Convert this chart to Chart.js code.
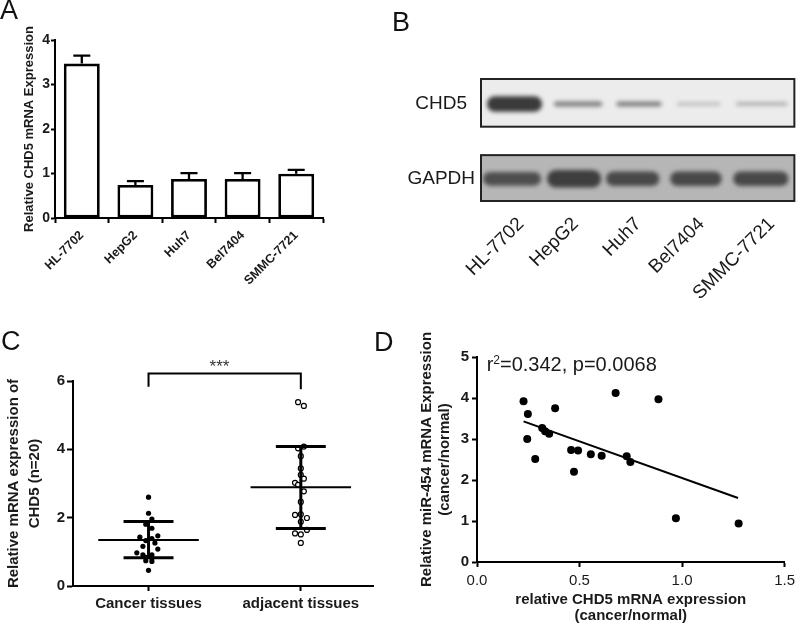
<!DOCTYPE html>
<html>
<head>
<meta charset="utf-8">
<script src="https://cdn.jsdelivr.net/npm/chart.js@4/dist/chart.umd.min.js"></script>
<style>
    html, body { margin: 0; padding: 0; background: #fff; }
    #page { position: relative; width: 800px; height: 624px; overflow: hidden; }
    canvas { position: absolute; filter: blur(0.35px); }
    .tag { position: absolute; font: 27px "Liberation Sans", Arial, sans-serif; color: #111; line-height: 27px; }
</style>
</head>
<body>
<div id="page">
    <canvas id="chartA" width="400" height="300" style="left:0;top:0"></canvas>
    <canvas id="chartB" width="400" height="260" style="left:400px;top:50px"></canvas>
    <canvas id="chartC" width="400" height="304" style="left:0;top:320px"></canvas>
    <canvas id="chartD" width="400" height="304" style="left:400px;top:320px"></canvas>
    <div class="tag" style="left:0;top:-3px">A</div>
    <div class="tag" style="left:392px;top:9px">B</div>
    <div class="tag" style="left:1px;top:328px">C</div>
    <div class="tag" style="left:374px;top:329px">D</div>
</div>
<script>
// Panel A: bars with error caps
const cellLines = ['HL-7702', 'HepG2', 'Huh7', 'Bel7404', 'SMMC-7721'];
const barValues = [3.47, 0.74, 0.875, 0.875, 0.995];
const barErrorTops = [3.65, 0.83, 1.01, 1.01, 1.08];

// Panel B: blot bands, x in lane units and y in row units
const blotRows = ['CHD5', 'GAPDH'];
const rowCenters = [2.115, 0.485];
const rowSpans = [[1.62, 2.66], [0, 1]];
const rowShades = ['#ececec', '#b6b6b6'];
const laneLabelAt = [0.64, 1.51, 2.51, 3.52, 4.64];
const chd5Centers = [0.535, 1.55, 2.52, 3.475, 4.48];
const chd5Widths = [0.88, 0.77, 0.72, 0.69, 0.82];
const chd5Thick = [0.34, 0.11, 0.1, 0.05, 0.06];
const chd5Gray = [58, 125, 118, 170, 155];
const gapdhCenters = [0.495, 1.486, 2.42, 3.43, 4.465];
const gapdhWidths = [0.93, 0.865, 0.85, 0.82, 0.88];
const gapdhThick = [0.3, 0.38, 0.32, 0.32, 0.32];
const gapdhGray = [78, 62, 72, 72, 72];

// Panel C: two groups of 20 samples
const groupNames = ['Cancer tissues', 'adjacent tissues'];
const cancerX = [1, 1, 1.022, 0.982, 1.022, 0.943, 1.061, 0.982, 1.022, 1.042, 0.963, 1.061, 0.923, 0.963, 1.022, 0.982, 1.022, 0.982, 1.022, 1];
const cancerY = [2.6, 2.13, 1.96, 1.81, 1.69, 1.43, 1.47, 1.33, 1.39, 1.26, 1.16, 1.08, 0.97, 0.91, 0.91, 0.84, 0.81, 0.74, 0.72, 0.46];
const adjacentX = [1.982, 2.02, 1.982, 2.02, 2, 2, 2, 2.02, 1.962, 1.982, 2.02, 2, 1.962, 2, 2.04, 2, 2.04, 1.962, 2, 2];
const adjacentY = [5.38, 5.27, 4.03, 4.08, 3.8, 3.44, 3.25, 3.14, 3.02, 2.96, 2.77, 2.46, 2.08, 2.1, 1.99, 1.88, 1.64, 1.54, 1.51, 1.26];
const groupMeans = [1.35, 2.89];
const groupUpper = [1.89, 4.08];
const groupLower = [0.83, 1.68];
const bracketX = [1, 1, 2, 2];
const bracketY = [5.83, 6.22, 6.22, 5.76];

// Panel D: correlation
const chd5Ratio = [0.227, 0.248, 0.245, 0.284, 0.318, 0.332, 0.352, 0.381, 0.459, 0.493, 0.473, 0.555, 0.608, 0.676, 0.73, 0.748, 0.885, 0.97, 1.276];
const mirRatio = [3.92, 3.61, 3.0, 2.51, 3.27, 3.19, 3.13, 3.75, 2.73, 2.72, 2.2, 2.63, 2.59, 4.12, 2.58, 2.44, 3.97, 1.07, 0.94];
const fitX = [0.227, 1.273];
const fitY = [3.43, 1.56];

Chart.defaults.font.family = '"Liberation Sans", Arial, sans-serif';
Chart.defaults.color = '#1a1a1a';
Chart.defaults.animation = false;
Chart.defaults.responsive = false;
Chart.defaults.plugins.legend.display = false;
Chart.defaults.plugins.tooltip.enabled = false;

function toPoints(xs, ys) {
    return xs.map((x, i) => ({ x: x, y: ys[i] }));
}

// line dataset used for means, whiskers, bracket and fit
function lineSet(points, width) {
    return { data: points, showLine: true, borderColor: '#000', borderWidth: width, pointRadius: 0, clip: false };
}

// axis line and outside ticks only
function axisStyle(width, tickLength) {
    return {
        border: { display: true, width: width, color: '#000' },
        grid: { drawOnChartArea: false, drawTicks: true, tickLength: tickLength, tickWidth: width, tickColor: '#000' }
    };
}

const errorBars = {
    id: 'errorBars',
    beforeDatasetsDraw(chart) {
        const ctx = chart.ctx;
        const y = chart.scales.y;
        const bars = chart.getDatasetMeta(0).data;
        ctx.save();
        ctx.strokeStyle = '#000';
        ctx.lineWidth = 2.3;
        bars.forEach((bar, i) => {
            const top = y.getPixelForValue(barErrorTops[i]);
            ctx.beginPath();
            ctx.moveTo(bar.x, y.getPixelForValue(barValues[i]));
            ctx.lineTo(bar.x, top);
            ctx.moveTo(bar.x - 8.5, top);
            ctx.lineTo(bar.x + 8.5, top);
            ctx.stroke();
        });
        ctx.restore();
    }
};

new Chart(document.getElementById('chartA'), {
    type: 'bar',
    data: {
        labels: cellLines,
        datasets: [{
            data: barValues,
            backgroundColor: '#fff',
            borderColor: '#000',
            borderWidth: 2.8,
            borderSkipped: false,
            barPercentage: 0.67,
            categoryPercentage: 1
        }]
    },
    options: {
        layout: { padding: { top: 40, right: 77 } },
        scales: {
            x: Object.assign(axisStyle(2, 5), {
                afterFit: s => { s.height = 82; },
                ticks: { font: { size: 12.5, weight: 'bold' }, minRotation: 45, maxRotation: 45, autoSkip: false, padding: 5 }
            }),
            y: Object.assign(axisStyle(2, 4), {
                min: 0,
                max: 4,
                afterFit: s => { s.width = 55; },
                ticks: { stepSize: 1, font: { size: 14, weight: 'bold' }, padding: 1 },
                title: { display: true, text: 'Relative CHD5 mRNA Expression', font: { size: 13, weight: 'bold' }, padding: { top: 22, bottom: 0 } }
            })
        }
    },
    plugins: [errorBars]
});

const blotPanels = {
    id: 'blotPanels',
    beforeDatasetsDraw(chart) {
        const ctx = chart.ctx;
        const x = chart.scales.x;
        const y = chart.scales.y;
        const rows = [
            [chd5Centers, chd5Widths, chd5Thick, chd5Gray],
            [gapdhCenters, gapdhWidths, gapdhThick, gapdhGray]
        ];
        rows.forEach((row, r) => {
            const top = y.getPixelForValue(rowSpans[r][1]);
            const bottom = y.getPixelForValue(rowSpans[r][0]);
            const left = x.left;
            const w = x.right - x.left;
            ctx.save();
            ctx.beginPath();
            ctx.rect(left, top, w, bottom - top);
            ctx.clip();
            ctx.fillStyle = rowShades[r];
            ctx.fillRect(left, top, w, bottom - top);
            ctx.filter = 'blur(2px)';
            row[0].forEach((c, i) => {
                const bw = row[1][i] * (x.getPixelForValue(1) - x.getPixelForValue(0));
                const bh = row[2][i] * (y.getPixelForValue(0) - y.getPixelForValue(1));
                const g = row[3][i];
                ctx.fillStyle = 'rgb(' + g + ',' + g + ',' + g + ')';
                ctx.beginPath();
                ctx.roundRect(x.getPixelForValue(c) - bw / 2, y.getPixelForValue(rowCenters[r]) - bh / 2, bw, bh, bh / 2);
                ctx.fill();
            });
            ctx.restore();
            ctx.save();
            ctx.strokeStyle = '#222';
            ctx.lineWidth = 2;
            ctx.strokeRect(left, top, w, bottom - top);
            ctx.restore();
        });
    }
};

new Chart(document.getElementById('chartB'), {
    type: 'scatter',
    data: { datasets: [{ data: toPoints(chd5Centers, chd5Thick), pointRadius: 0 }] },
    options: {
        layout: { padding: { top: 29, right: 1 } },
        scales: {
            x: {
                min: 0,
                max: 5,
                border: { display: false },
                grid: { display: false, drawTicks: false },
                afterFit: s => { s.height = 109; },
                afterBuildTicks: s => { s.ticks = laneLabelAt.map(v => ({ value: v })); },
                ticks: { callback: (v, i) => cellLines[i], font: { size: 19 }, minRotation: 45, maxRotation: 45, autoSkip: false, padding: 12 }
            },
            y: {
                min: 0,
                max: 2.66,
                border: { display: false },
                grid: { display: false, drawTicks: false },
                afterFit: s => { s.width = 81; },
                afterBuildTicks: s => { s.ticks = rowCenters.map(v => ({ value: v })); },
                ticks: { callback: (v, i) => blotRows[i], font: { size: 19 }, crossAlign: 'center', autoSkip: false, padding: 6 }
            }
        }
    },
    plugins: [blotPanels]
});

const starsLabel = {
    id: 'starsLabel',
    afterDatasetsDraw(chart) {
        const ctx = chart.ctx;
        ctx.save();
        ctx.font = '17px "Liberation Sans", Arial, sans-serif';
        ctx.fillStyle = '#333';
        ctx.textAlign = 'center';
        ctx.textBaseline = 'middle';
        ctx.fillText('***', chart.scales.x.getPixelForValue(1.466), chart.scales.y.getPixelForValue(6.41));
        ctx.restore();
    }
};

const summaryLines = [];
groupNames.forEach((name, i) => {
    const c = i + 1;
    summaryLines.push(lineSet(toPoints([c - 0.33, c + 0.33], [groupMeans[i], groupMeans[i]]), 2));
    summaryLines.push(lineSet(toPoints([c - 0.164, c + 0.164], [groupUpper[i], groupUpper[i]]), 3));
    summaryLines.push(lineSet(toPoints([c - 0.164, c + 0.164], [groupLower[i], groupLower[i]]), 3));
    summaryLines.push(lineSet(toPoints([c, c], [groupLower[i], groupUpper[i]]), 3));
});

new Chart(document.getElementById('chartC'), {
    type: 'scatter',
    data: {
        datasets: summaryLines.concat([
            lineSet(toPoints(bracketX, bracketY), 2),
            { data: toPoints(cancerX, cancerY), pointRadius: 2.6, pointBackgroundColor: '#000', pointBorderColor: '#000', pointBorderWidth: 0 },
            { data: toPoints(adjacentX, adjacentY), pointRadius: 2.5, pointBackgroundColor: '#fff', pointBorderColor: '#000', pointBorderWidth: 1.2 }
        ])
    },
    options: {
        layout: { padding: { top: 61, right: 27 } },
        scales: {
            x: Object.assign(axisStyle(2, 5), {
                min: 0.504,
                max: 2.474,
                afterFit: s => { s.height = 38; },
                afterBuildTicks: s => { s.ticks = [{ value: 1 }, { value: 2 }]; },
                ticks: { callback: (v, i) => groupNames[i], font: { size: 15, weight: 'bold' }, autoSkip: false, maxRotation: 0, padding: 4 }
            }),
            y: Object.assign(axisStyle(2, 6), {
                min: 0,
                max: 6,
                afterFit: s => { s.width = 73; },
                ticks: { stepSize: 2, font: { size: 15, weight: 'bold' }, padding: 2 },
                title: {
                    display: true,
                    text: ['Relative mRNA expression of', 'CHD5 (n=20)'],
                    font: { size: 15, weight: 'bold', lineHeight: 1.35 },
                    padding: { top: 4, bottom: 0 }
                }
            })
        }
    },
    plugins: [starsLabel]
});

const statsLabel = {
    id: 'statsLabel',
    afterDatasetsDraw(chart) {
        const ctx = chart.ctx;
        let px = chart.scales.x.getPixelForValue(0.047);
        const py = chart.scales.y.getPixelForValue(4.67);
        ctx.save();
        ctx.fillStyle = '#1a1a1a';
        ctx.textBaseline = 'alphabetic';
        ctx.font = '20px "Liberation Sans", Arial, sans-serif';
        ctx.fillText('r', px, py);
        px += ctx.measureText('r').width;
        ctx.font = '12px "Liberation Sans", Arial, sans-serif';
        ctx.fillText('2', px, py - 7);
        px += ctx.measureText('2').width;
        ctx.font = '20px "Liberation Sans", Arial, sans-serif';
        ctx.fillText('=0.342, p=0.0068', px, py);
        ctx.restore();
    }
};

new Chart(document.getElementById('chartD'), {
    type: 'scatter',
    data: {
        datasets: [
            { data: toPoints(chd5Ratio, mirRatio), pointRadius: 4, pointBackgroundColor: '#000', pointBorderWidth: 0 },
            lineSet(toPoints(fitX, fitY), 2)
        ]
    },
    options: {
        layout: { padding: { top: 37, right: 14 } },
        scales: {
            x: Object.assign(axisStyle(2, 5), {
                min: 0,
                max: 1.5,
                afterFit: s => { s.height = 62; },
                ticks: { stepSize: 0.5, callback: v => v.toFixed(1), font: { size: 15 }, padding: 5 },
                title: {
                    display: true,
                    text: ['relative CHD5 mRNA expression', '(cancer/normal)'],
                    font: { size: 15, weight: 'bold', lineHeight: 16 / 15 },
                    padding: { top: 0, bottom: 0 }
                }
            }),
            y: Object.assign(axisStyle(2, 5), {
                min: 0,
                max: 5,
                afterFit: s => { s.width = 77; },
                ticks: { stepSize: 1, font: { size: 15, weight: 'bold' }, padding: 3 },
                title: {
                    display: true,
                    text: ['Relative miR-454 mRNA Expression', '(cancer/normal)'],
                    font: { size: 15, weight: 'bold', lineHeight: 18 / 15 },
                    padding: { top: 18, bottom: 0 }
                }
            })
        }
    },
    plugins: [statsLabel]
});
</script>
</body>
</html>
